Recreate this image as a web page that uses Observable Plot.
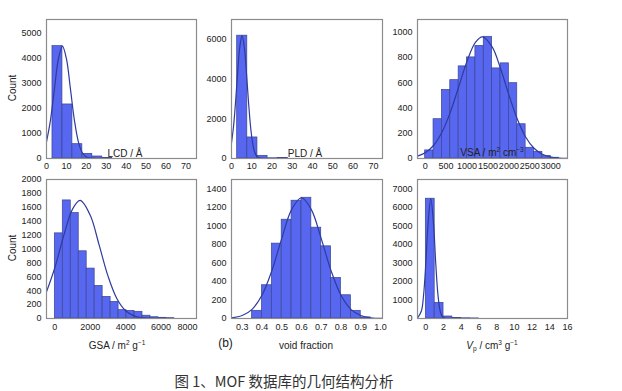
<!DOCTYPE html>
<html><head><meta charset="utf-8">
<script src="https://cdn.jsdelivr.net/npm/d3@7"></script>
<script src="https://cdn.jsdelivr.net/npm/@observablehq/plot@0.6"></script>
<style>
body{margin:0;background:#fff;}
#wrap{position:relative;width:622px;height:391px;overflow:hidden;background:#fff;font-family:"Liberation Sans",Arial,sans-serif;color:#222;}
.p{position:absolute;}
.t{position:absolute;transform:translate(-50%,-50%);white-space:nowrap;font-size:10px;line-height:1;}
.t sup{font-size:6.5px;vertical-align:4px;line-height:0;}
.t sub{font-size:6.5px;vertical-align:-2px;line-height:0;}
.rot{transform:translate(-50%,-50%) rotate(-90deg);}
.cap{font-family:"Noto Sans CJK SC",sans-serif;font-size:14.5px;color:#333;}
</style></head><body><div id="wrap"></div><script>
// ---- data ----
const lcdBins = [3, 8, 13, 18, 23, 28];
const lcdCounts = [4470, 2150, 570, 186, 80, 20];
const lcdFitX = [0, 2, 4, 6, 8, 10, 12, 14, 16, 18, 20, 22, 25, 30, 75];
const lcdFitY = [665, 1530, 2780, 3970, 4470, 3970, 2780, 1530, 665, 228, 61, 13, 1, 0, 0];

const pldBins = [2.8, 7.8, 12.8, 17.8, 22.8];
const pldCounts = [6185, 1060, 135, 12, 30];
const pldFitX = [0, 1, 2, 3, 4, 5.2, 6.4, 7.4, 8.4, 9.4, 10.4, 11.4, 12.4, 13.4, 15, 20, 75];
const pldFitY = [788, 1610, 2835, 4275, 5540, 6185, 5540, 4275, 2835, 1610, 788, 329, 118, 37, 4, 0, 0];

const vsaBins = [0, 200, 400, 600, 800, 1000, 1200, 1400, 1600, 1800, 2000, 2200, 2400, 2600, 2800, 3000];
const vsaCounts = [64, 311, 543, 620, 729, 800, 891, 963, 713, 753, 596, 271, 85, 53, 19, 6];
const vsaFitX = [-183, 0, 200, 400, 600, 800, 1000, 1200, 1370, 1600, 1800, 2000, 2200, 2400, 2600, 2800, 3000, 3200, 3400];
const vsaFitY = [19, 45, 103, 207, 365, 566, 770, 919, 963, 883, 712, 503, 312, 170, 81, 34, 12, 4, 1];

const gsaBins = [0, 450, 900, 1350, 1800, 2250, 2700, 3150, 3600, 4050, 4500, 4950, 5400, 5850, 6300];
const gsaCounts = [1225, 1699, 1517, 967, 718, 469, 311, 239, 120, 110, 96, 40, 18, 10, 5];
const gsaFitX = [-470, 0, 500, 1000, 1430, 2000, 2500, 3000, 3500, 4000, 4500, 5000, 5500, 6000, 8000];
const gsaFitY = [383, 730, 1188, 1574, 1699, 1486, 1059, 613, 289, 111, 35, 9, 2, 0, 0];

const vfBins = [0.35, 0.40, 0.45, 0.50, 0.55, 0.60, 0.65, 0.70, 0.75, 0.80, 0.85, 0.90];
const vfCounts = [83, 359, 808, 1066, 1271, 1303, 980, 779, 438, 251, 83, 12];
const vfFitX = [0.246, 0.30, 0.35, 0.40, 0.45, 0.50, 0.55, 0.60, 0.65, 0.70, 0.75, 0.80, 0.85, 0.90, 0.95, 1.01];
const vfFitY = [7, 32, 99, 250, 514, 862, 1175, 1303, 1175, 862, 514, 250, 99, 32, 8, 1];

const vpBins = [0, 1, 2, 3, 4, 5];
const vpCounts = [6463, 844, 108, 30, 12, 5];
const vpFitX = [-0.94, -0.5, -0.25, 0, 0.25, 0.56, 0.87, 1.12, 1.37, 1.62, 1.87, 2.2, 3, 16];
const vpFitY = [23, 403, 1279, 2981, 5097, 6463, 5097, 2981, 1279, 403, 93, 8, 0, 0];

const lcdXTicks = [0, 10, 20, 30, 40, 50, 60, 70];
const lcdYTicks = [0, 1000, 2000, 3000, 4000, 5000];
const pldYTicks = [0, 2000, 4000, 6000];
const vsaXTicks = [0, 500, 1000, 1500, 2000, 2500, 3000];
const vsaYTicks = [0, 200, 400, 600, 800, 1000];
const gsaXTicks = [0, 2000, 4000, 6000];
const gsaLastTick = [8000];
const gsaYTicks = [0, 200, 400, 600, 800, 1000, 1200, 1400, 1600, 1800, 2000];
const vfXTicks = [0.3, 0.4, 0.5, 0.6, 0.7, 0.8, 0.9, 1.0];
const vfYTicks = [0, 200, 400, 600, 800, 1000, 1200, 1400];
const vpXTicks = [0, 2, 4, 6, 8, 10, 12, 14, 16];
const vpYTicks = [0, 1000, 2000, 3000, 4000, 5000, 6000, 7000];

const caption = "图 1、MOF 数据库的几何结构分析";

// ---- drawing ----
const wrap = document.getElementById("wrap");
const BAR = "#5767ef", EDGE = "#3a4590", FIT = "#2e3b9e", FRAME = "#8c8c8c";

function panel(o) {
  const bars = o.bins.map((b, i) => ({x1: b, x2: b + o.bw, y: o.counts[i]}));
  const fit = o.fx.map((x, i) => ({x, y: o.fy[i]}));
  const fmt = o.fmt || (d => String(d));
  const marks = [
    Plot.rectY(bars, {x1: "x1", x2: "x2", y: "y", fill: BAR, stroke: EDGE, strokeWidth: 0.7}),
    Plot.line(fit, {x: "x", y: "y", stroke: FIT, strokeWidth: 1.2, curve: "catmull-rom", clip: true}),
    Plot.frame({stroke: FRAME, strokeWidth: 1.2}),
    Plot.axisX({ticks: o.xt, tickSize: 0, tickPadding: o.xpad, tickFormat: fmt, label: null}),
    Plot.axisY({ticks: o.yt, tickSize: 0, tickPadding: 5, tickFormat: d => String(d), label: null})
  ];
  if (o.extra) marks.push(Plot.axisX({ticks: o.extra, tickSize: 0, tickPadding: o.xpad, tickFormat: fmt, textAnchor: "end", dx: 1, label: null}));
  const svg = Plot.plot({
    width: o.w, height: o.h,
    marginLeft: o.ml, marginRight: o.mr, marginTop: o.mt, marginBottom: o.mb,
    x: {domain: o.xd, label: null},
    y: {domain: o.yd, label: null},
    style: {fontFamily: "Liberation Sans, Arial, sans-serif", fontSize: "9px", color: "#222", background: "transparent", overflow: "visible"},
    marks
  });
  svg.classList.add("p");
  svg.style.left = o.left + "px";
  svg.style.top = o.top + "px";
  svg.style.position = "absolute";
  wrap.appendChild(svg);
}

const TOP = {top: 0, h: 178, mt: 19, mb: 20, xpad: 4};
const BOT = {top: 165, h: 170, mt: 14, mb: 17, xpad: 5.5};

panel({...TOP, left: 0, w: 205, ml: 46, mr: 9, xd: [0, 75.3], yd: [0, 5530],
  bins: lcdBins, bw: 5, counts: lcdCounts, fx: lcdFitX, fy: lcdFitY, xt: lcdXTicks, yt: lcdYTicks});
panel({...TOP, left: 200, w: 190, ml: 31, mr: 8, xd: [0, 74.5], yd: [0, 7000],
  bins: pldBins, bw: 5, counts: pldCounts, fx: pldFitX, fy: pldFitY, xt: lcdXTicks, yt: pldYTicks});
panel({...TOP, left: 385, w: 190, ml: 32, mr: 8, xd: [-183, 3400], yd: [0, 1100],
  bins: vsaBins, bw: 200, counts: vsaCounts, fx: vsaFitX, fy: vsaFitY, xt: vsaXTicks, yt: vsaYTicks});
panel({...BOT, left: 0, w: 205, ml: 46, mr: 9, xd: [-470, 8000], yd: [0, 2000],
  bins: gsaBins, bw: 450, counts: gsaCounts, fx: gsaFitX, fy: gsaFitY, xt: gsaXTicks, yt: gsaYTicks, extra: gsaLastTick});
panel({...BOT, left: 200, w: 190, ml: 31, mr: 8, xd: [0.246, 1.01], yd: [0, 1500],
  bins: vfBins, bw: 0.05, counts: vfCounts, fx: vfFitX, fy: vfFitY, xt: vfXTicks, yt: vfYTicks, fmt: d => d.toFixed(1)});
panel({...BOT, left: 385, w: 190, ml: 32, mr: 8, xd: [-0.94, 16], yd: [0, 7500],
  bins: vpBins, bw: 1, counts: vpCounts, fx: vpFitX, fy: vpFitY, xt: vpXTicks, yt: vpYTicks});

function label(html, x, y, cls) {
  const d = document.createElement("div");
  d.className = "t" + (cls ? " " + cls : "");
  d.style.left = x + "px";
  d.style.top = y + "px";
  d.innerHTML = html;
  wrap.appendChild(d);
  return d;
}
label("Count", 13, 88, "rot");
label("Count", 13, 248, "rot");
label("LCD / Å", 125, 154);
label("PLD / Å", 305, 154);
label("VSA / m<sup>2</sup> cm<sup>−3</sup>", 492, 153);
label("GSA / m<sup>2</sup> g<sup>−1</sup>", 117, 345.5);
label("void fraction", 306, 345.5);
label("<i>V</i><sub>p</sub> / cm<sup>3</sup> g<sup>−1</sup>", 492, 345.5);
label("(b)", 225.5, 343).style.fontSize = "12px";
label(caption, 284, 381, "cap");
</script></body></html>
